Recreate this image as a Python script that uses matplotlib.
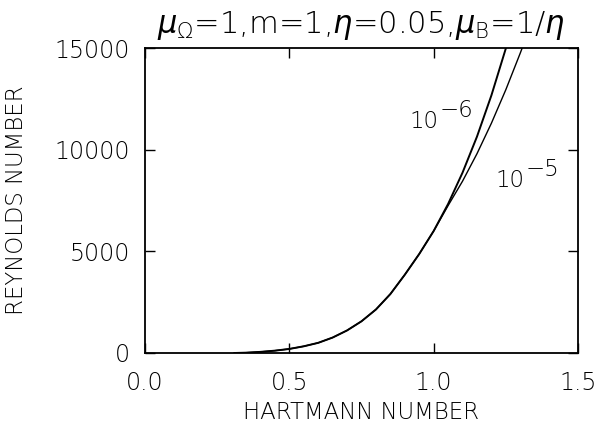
import matplotlib
matplotlib.use("Agg")
import matplotlib.pyplot as plt

# Data (Hartmann number vs Reynolds number)
ha_common = [0.31, 0.35, 0.40, 0.45, 0.50, 0.55, 0.60, 0.65, 0.70, 0.75, 0.80, 0.85, 0.90, 0.95, 1.00]
re_common = [0, 15, 55, 115, 200, 330, 500, 760, 1110, 1560, 2140, 2900, 3850, 4870, 6000]

ha_1e6_tail = [1.05, 1.10, 1.15, 1.20, 1.25, 1.27]
re_1e6_tail = [7330, 8870, 10640, 12670, 14980, 15990]

ha_1e5_tail = [1.05, 1.10, 1.15, 1.20, 1.25, 1.30, 1.32]
re_1e5_tail = [7250, 8450, 9800, 11300, 12950, 14750, 15500]

ha_1e6 = ha_common + ha_1e6_tail
re_1e6 = re_common + re_1e6_tail
ha_1e5 = ha_common + ha_1e5_tail
re_1e5 = re_common + re_1e5_tail

xticks = [0.0, 0.5, 1.0, 1.5]
xticklabels = ["0.0", "0.5", "1.0", "1.5"]
yticks = [0, 5000, 10000, 15000]
yticklabels = ["0", "5000", "10000", "15000"]

plt.rcParams['font.family'] = ['DejaVu Sans']
plt.rcParams['font.weight'] = 'light'
plt.rcParams['axes.labelweight'] = 'light'
plt.rcParams['axes.titleweight'] = 'light'
plt.rcParams['mathtext.fontset'] = 'custom'
plt.rcParams['mathtext.rm'] = 'DejaVu Sans:light'
plt.rcParams['mathtext.it'] = 'DejaVu Sans:oblique'
plt.rcParams['mathtext.bf'] = 'DejaVu Sans:bold'
plt.rcParams['mathtext.sf'] = 'DejaVu Sans:light'

fig = plt.figure(figsize=(6.0, 4.3), dpi=100)
ax = fig.add_axes([145/600, 1-353/430, (578-145)/600, (353-48)/430])

ax.plot(ha_1e6, re_1e6, color='black', lw=1.4, clip_on=True)
ax.plot(ha_1e5, re_1e5, color='black', lw=1.0, clip_on=True)

ax.set_xlim(0, 1.5)
ax.set_ylim(0, 15000)
ax.set_xticks(xticks)
ax.set_xticklabels(xticklabels)
ax.set_yticks(yticks)
ax.set_yticklabels(yticklabels)
ax.tick_params(direction='in', length=7, width=1.0, top=True, right=True,
               labelsize=17, colors='black')
ax.tick_params(axis='x', pad=13)
ax.tick_params(axis='y', pad=11)
for s in ax.spines.values():
    s.set_linewidth(1.3)

ax.set_xlabel("HARTMANN NUMBER", fontsize=16.5, labelpad=4)
ax.set_ylabel("REYNOLDS NUMBER", fontsize=16.5, labelpad=19)

ax.set_title(r"$\mu_\Omega$=1,m=1,$\eta$=0.05,$\mu_{\mathrm{B}}$=1/$\eta$",
             fontsize=22, pad=11)

# Curve labels: "10" with raised exponent of nearly equal size
for (hx, ry, expo) in [(0.916, 11070, "\u22126"), (1.214, 8165, "\u22125")]:
    ax.text(hx, ry, "10", fontsize=16.5, ha='left', va='baseline')
    ax.annotate(expo, xy=(hx, ry), xytext=(22, 8), textcoords='offset points',
                fontsize=16.5, ha='left', va='baseline')

fig.savefig("out.png", dpi=100)
